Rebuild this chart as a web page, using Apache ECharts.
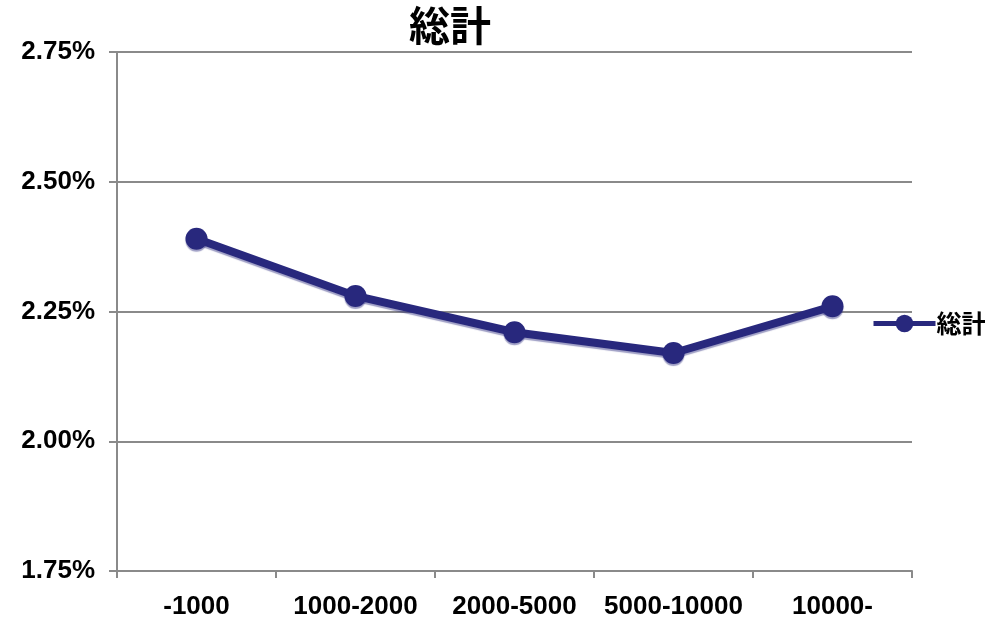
<!DOCTYPE html>
<html>
<head>
<meta charset="utf-8">
<script src="https://cdn.jsdelivr.net/npm/echarts@6/dist/echarts.min.js"></script>
<style>
  html, body { margin: 0; padding: 0; background: #fff; }
  #chart { width: 985px; height: 625px; }
</style>
</head>
<body>
<div id="chart"></div>
<script>
// Income brackets on the x axis
const categories = ['-1000', '1000-2000', '2000-5000', '5000-10000', '10000-'];
// Rate per bracket, in percent
const totalValues = [2.39, 2.28, 2.21, 2.17, 2.26];
const seriesName = '総計';
const titleText = '総計';
// Value axis range in percent
const yMin = 1.75, yMax = 2.75, yStep = 0.25;

const latin = '"Liberation Sans", Arial, sans-serif';
const cjk = '"Noto Sans CJK JP", "Liberation Sans", sans-serif';
const navy = '#28287d';
const gridGrey = '#8a8a8a';

const chart = echarts.init(document.getElementById('chart'), null, { renderer: 'canvas' });
chart.setOption({
  animation: false,
  backgroundColor: '#ffffff',
  title: {
    text: titleText,
    left: 445, top: 0,
    textAlign: 'center',
    textStyle: { fontFamily: cjk, fontWeight: 'bold', fontSize: 41, color: '#000' }
  },
  legend: {
    data: [seriesName],
    left: 866, top: 306,
    itemWidth: 62, itemHeight: 22,
    itemGap: 4,
    lineStyle: { width: 5 },
    textStyle: { fontFamily: cjk, fontWeight: 'bold', fontSize: 25, color: '#000', padding: [0, 0, 0, -4] }
  },
  grid: { left: 117, right: 73, top: 52, bottom: 54, containLabel: false },
  xAxis: {
    type: 'category',
    data: categories,
    boundaryGap: true,
    axisLine: { show: true, lineStyle: { color: gridGrey, width: 2 } },
    axisTick: { show: true, interval: 0, length: 7, inside: false, lineStyle: { color: gridGrey, width: 2 } },
    axisLabel: { interval: 0, fontFamily: latin, fontWeight: 'bold', fontSize: 26, color: '#000', margin: 23 },
    splitLine: { show: false }
  },
  yAxis: {
    type: 'value',
    min: yMin, max: yMax, interval: yStep,
    axisLine: { show: true, lineStyle: { color: gridGrey, width: 2 } },
    axisTick: { show: true, length: 8, lineStyle: { color: gridGrey, width: 2 } },
    axisLabel: {
      fontFamily: latin, fontWeight: 'bold', fontSize: 26, color: '#000', margin: 22,
      formatter: v => v.toFixed(2) + '%'
    },
    splitLine: { show: true, lineStyle: { color: gridGrey, width: 2 } }
  },
  series: [{
    name: seriesName,
    type: 'line',
    data: totalValues,
    symbol: 'circle',
    symbolSize: 22,
    lineStyle: { color: navy, width: 8, shadowColor: 'rgba(40,40,125,0.45)', shadowOffsetY: 2, shadowBlur: 1 },
    itemStyle: { color: navy, shadowColor: 'rgba(40,40,125,0.45)', shadowOffsetY: 2, shadowBlur: 1 }
  }]
});
</script>
</body>
</html>
